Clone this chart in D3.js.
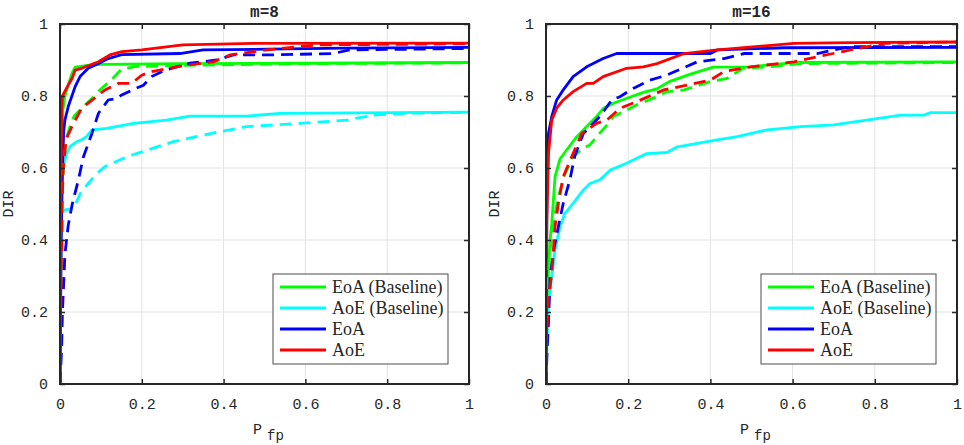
<!DOCTYPE html>
<html>
<head>
<meta charset="utf-8">
<script src="https://cdn.jsdelivr.net/npm/d3@7"></script>
<style>
  body { margin: 0; background: #fff; }
  svg text { fill: #262626; }
</style>
</head>
<body>
<div id="chart"></div>
<script>
// legend labels and line colours
const seriesNames = ["EoA (Baseline)", "AoE (Baseline)", "EoA", "AoE"];
const seriesColors = ["#00ff00", "#00ffff", "#0000ff", "#ff0000"];
const ticks = [0, 0.2, 0.4, 0.6, 0.8, 1];
const tickLabels = ["0", "0.2", "0.4", "0.6", "0.8", "1"];
const panelTitles = ["m=8", "m=16"];

// m=8, solid curves  [Pfp, DIR]
const m8EoABase = [[0,0],[0.002,0.4],[0.004,0.65],[0.007,0.76],[0.012,0.8],[0.02,0.83],[0.03,0.865],[0.037,0.88],[0.06,0.884],[0.1,0.888],[0.3,0.89],[0.6,0.891],[1,0.893]];
const m8AoEBase = [[0,0],[0.002,0.4],[0.005,0.56],[0.008,0.604],[0.016,0.64],[0.025,0.66],[0.041,0.673],[0.055,0.68],[0.065,0.687],[0.078,0.706],[0.114,0.71],[0.18,0.724],[0.26,0.733],[0.318,0.744],[0.456,0.744],[0.538,0.752],[1,0.755]];
const m8EoA = [[0,0],[0.003,0.4],[0.006,0.6],[0.009,0.7],[0.012,0.733],[0.02,0.77],[0.037,0.826],[0.049,0.854],[0.069,0.877],[0.094,0.89],[0.118,0.904],[0.151,0.915],[0.293,0.918],[0.35,0.928],[0.506,0.93],[0.7,0.933],[1,0.935]];
const m8AoE = [[0,0],[0.002,0.5],[0.004,0.75],[0.006,0.8],[0.02,0.83],[0.03,0.85],[0.037,0.872],[0.053,0.877],[0.094,0.895],[0.122,0.914],[0.151,0.923],[0.2,0.928],[0.3,0.942],[0.47,0.946],[1,0.947]];
// m=8, dashed curves
const m8EoABaseD = [[0,0],[0.003,0.3],[0.005,0.5],[0.008,0.6],[0.015,0.68],[0.024,0.715],[0.035,0.745],[0.053,0.766],[0.075,0.79],[0.098,0.817],[0.13,0.85],[0.151,0.875],[0.187,0.882],[0.3,0.885],[0.6,0.89],[1,0.892]];
const m8AoEBaseD = [[0,0],[0.003,0.2],[0.006,0.4],[0.008,0.483],[0.033,0.488],[0.05,0.53],[0.069,0.557],[0.09,0.585],[0.11,0.604],[0.163,0.631],[0.2,0.645],[0.277,0.673],[0.391,0.701],[0.456,0.715],[0.587,0.724],[0.701,0.733],[0.766,0.747],[0.85,0.752],[1,0.755]];
const m8EoAD = [[0,0],[0.004,0.1],[0.006,0.2],[0.009,0.28],[0.012,0.36],[0.02,0.44],[0.03,0.5],[0.045,0.567],[0.057,0.63],[0.078,0.696],[0.094,0.752],[0.118,0.789],[0.139,0.793],[0.151,0.803],[0.183,0.82],[0.204,0.83],[0.224,0.854],[0.257,0.872],[0.318,0.891],[0.383,0.9],[0.424,0.914],[0.505,0.914],[0.668,0.918],[0.709,0.928],[1,0.932]];
const m8AoED = [[0,0],[0.003,0.3],[0.005,0.5],[0.008,0.6],[0.015,0.68],[0.029,0.715],[0.053,0.766],[0.08,0.79],[0.11,0.817],[0.143,0.835],[0.175,0.835],[0.2,0.858],[0.224,0.868],[0.31,0.886],[0.375,0.895],[0.416,0.914],[0.505,0.928],[0.628,0.942],[1,0.945]];

// m=16, solid curves
const m16EoABase = [[0,0],[0.005,0.3],[0.01,0.4],[0.014,0.446],[0.018,0.511],[0.022,0.576],[0.034,0.625],[0.05,0.65],[0.075,0.687],[0.099,0.715],[0.123,0.743],[0.139,0.765],[0.164,0.78],[0.2,0.795],[0.237,0.81],[0.27,0.82],[0.3,0.84],[0.35,0.86],[0.407,0.88],[0.498,0.881],[0.603,0.893],[1,0.895]];
const m16AoEBase = [[0,0],[0.003,0.15],[0.006,0.215],[0.014,0.298],[0.022,0.372],[0.034,0.437],[0.046,0.474],[0.066,0.502],[0.091,0.539],[0.107,0.557],[0.131,0.567],[0.156,0.594],[0.196,0.613],[0.245,0.64],[0.294,0.643],[0.32,0.659],[0.416,0.678],[0.465,0.687],[0.538,0.706],[0.62,0.715],[0.7,0.72],[0.78,0.733],[0.863,0.747],[0.92,0.747],[0.936,0.754],[1,0.754]];
const m16EoA = [[0,0],[0.002,0.5],[0.006,0.696],[0.014,0.743],[0.026,0.789],[0.042,0.817],[0.066,0.854],[0.099,0.881],[0.139,0.904],[0.172,0.918],[0.229,0.918],[0.4,0.918],[0.417,0.928],[0.58,0.934],[1,0.935]];
const m16AoE = [[0,0],[0.002,0.45],[0.006,0.64],[0.014,0.733],[0.026,0.766],[0.042,0.789],[0.066,0.812],[0.099,0.835],[0.115,0.835],[0.139,0.854],[0.196,0.877],[0.237,0.881],[0.27,0.89],[0.336,0.918],[0.417,0.928],[0.603,0.946],[0.74,0.948],[1,0.95]];
// m=16, dashed curves (AoE baseline dashed lies under the solid one)
const m16EoABaseD = [[0,0],[0.003,0.2],[0.008,0.35],[0.018,0.45],[0.03,0.52],[0.045,0.58],[0.065,0.63],[0.09,0.655],[0.107,0.664],[0.127,0.692],[0.152,0.724],[0.164,0.743],[0.196,0.761],[0.22,0.775],[0.261,0.794],[0.294,0.812],[0.336,0.817],[0.4,0.84],[0.44,0.849],[0.48,0.877],[0.538,0.881],[0.62,0.89],[1,0.893]];
const m16EoAD = [[0,0],[0.003,0.1],[0.006,0.168],[0.01,0.298],[0.02,0.38],[0.03,0.437],[0.042,0.502],[0.058,0.567],[0.07,0.633],[0.091,0.696],[0.131,0.743],[0.16,0.789],[0.18,0.798],[0.212,0.821],[0.253,0.844],[0.294,0.858],[0.368,0.895],[0.433,0.904],[0.482,0.918],[0.66,0.918],[0.7,0.928],[0.741,0.937],[1,0.937]];
const m16AoED = [[0,0],[0.0016,0.13],[0.006,0.24],[0.014,0.307],[0.018,0.372],[0.022,0.437],[0.03,0.502],[0.042,0.576],[0.062,0.63],[0.087,0.696],[0.123,0.724],[0.148,0.733],[0.18,0.766],[0.22,0.784],[0.287,0.817],[0.4,0.844],[0.433,0.868],[0.498,0.881],[0.603,0.895],[0.66,0.909],[0.741,0.928],[0.822,0.946],[1,0.95]];

const panels = [
  { title: panelTitles[0], left: 60, right: 469,
    solid: [m8EoABase, m8AoEBase, m8EoA, m8AoE],
    dashed: [m8EoABaseD, m8AoEBaseD, m8EoAD, m8AoED] },
  { title: panelTitles[1], left: 546, right: 957,
    solid: [m16EoABase, m16AoEBase, m16EoA, m16AoE],
    dashed: [m16EoABaseD, null, m16EoAD, m16AoED] }
];

const width = 964, height = 445;
const plotTop = 24, plotBottom = 384;
const mono = "'Liberation Mono', 'DejaVu Sans Mono', monospace";

const svg = d3.select('#chart').append('svg')
    .attr('width', width)
    .attr('height', height);

panels.forEach((p, pi) => {
  const x = d3.scaleLinear().domain([0, 1]).range([p.left, p.right]);
  const y = d3.scaleLinear().domain([0, 1]).range([plotBottom, plotTop]);
  const g = svg.append('g');

  // grid
  g.selectAll('.gx').data(ticks.slice(1, -1)).enter().append('line')
      .attr('x1', d => x(d)).attr('x2', d => x(d))
      .attr('y1', plotTop).attr('y2', plotBottom)
      .attr('stroke', '#e3e3e3').attr('stroke-width', 1);
  g.selectAll('.gy').data(ticks.slice(1, -1)).enter().append('line')
      .attr('x1', p.left).attr('x2', p.right)
      .attr('y1', d => y(d)).attr('y2', d => y(d))
      .attr('stroke', '#e3e3e3').attr('stroke-width', 1);

  // curves
  g.append('clipPath').attr('id', 'clip' + pi)
    .append('rect').attr('x', p.left).attr('y', plotTop - 2)
    .attr('width', p.right - p.left).attr('height', plotBottom - plotTop + 2);

  const line = d3.line().x(d => x(d[0])).y(d => y(d[1]));
  const curves = g.append('g').attr('clip-path', 'url(#clip' + pi + ')');

  p.solid.forEach((s, i) => {
    curves.append('path').datum(s)
        .attr('d', line).attr('fill', 'none')
        .attr('stroke', seriesColors[i]).attr('stroke-width', 2.8)
        .attr('stroke-linejoin', 'round');
  });
  p.dashed.forEach((s, i) => {
    if (!s) return;
    curves.append('path').datum(s)
        .attr('d', line).attr('fill', 'none')
        .attr('stroke', seriesColors[i]).attr('stroke-width', 2.8)
        .attr('stroke-dasharray', '12,7');
  });

  // axes (ticks pointing inward, on all sides)
  const xb = g.append('g').attr('transform', `translate(0,${plotBottom})`)
      .call(d3.axisBottom(x).tickValues(ticks).tickSize(-5).tickPadding(14)
        .tickFormat((d, i) => tickLabels[i]));
  const yl = g.append('g').attr('transform', `translate(${p.left},0)`)
      .call(d3.axisLeft(y).tickValues(ticks).tickSize(-5).tickPadding(12)
        .tickFormat((d, i) => tickLabels[i]));
  const xt = g.append('g').attr('transform', `translate(0,${plotTop})`)
      .call(d3.axisTop(x).tickValues(ticks).tickSize(-5).tickFormat(''));
  const yr = g.append('g').attr('transform', `translate(${p.right},0)`)
      .call(d3.axisRight(y).tickValues(ticks).tickSize(-5).tickFormat(''));

  [xb, yl, xt, yr].forEach(a => {
    a.select('.domain').remove();
    a.selectAll('.tick line').attr('stroke', '#262626').attr('stroke-width', 1.5);
    a.selectAll('text').style('font-family', mono).style('font-size', '15px')
      .attr('fill', '#333');
  });

  g.append('rect')
      .attr('x', p.left).attr('y', plotTop)
      .attr('width', p.right - p.left).attr('height', plotBottom - plotTop)
      .attr('fill', 'none').attr('stroke', '#262626').attr('stroke-width', 2);

  // title
  const cx = (p.left + p.right) / 2;
  g.append('text').attr('x', cx).attr('y', 17)
      .attr('text-anchor', 'middle')
      .style('font-family', mono).style('font-size', '16px').style('font-weight', 'bold')
      .attr('fill', '#000').text(p.title);

  // axis labels
  const xl = g.append('text').attr('x', cx + 4).attr('y', 434)
      .attr('text-anchor', 'middle')
      .style('font-family', mono).style('font-size', '15px');
  xl.append('tspan').text('P');
  xl.append('tspan').attr('dx', 5).attr('dy', 6).style('font-size', '14px').text('fp');

  g.append('text')
      .attr('transform', `translate(${p.left - 47},${(plotTop + plotBottom) / 2}) rotate(-90)`)
      .attr('text-anchor', 'middle')
      .style('font-family', mono).style('font-size', '15px')
      .text('DIR');

  // legend
  const lx = p.right - 196, ly = 274;
  const leg = g.append('g').attr('transform', `translate(${lx},${ly})`);
  leg.append('rect').attr('width', 175).attr('height', 90)
      .attr('fill', '#fff').attr('stroke', '#4d4d4d').attr('stroke-width', 1);
  seriesNames.forEach((n, i) => {
    const ry = 13 + i * 21;
    leg.append('line').attr('x1', 7).attr('x2', 53)
        .attr('y1', ry).attr('y2', ry)
        .attr('stroke', seriesColors[i]).attr('stroke-width', 3);
    leg.append('text').attr('x', 59).attr('y', ry + 6)
        .style('font-family', "'Liberation Serif', 'DejaVu Serif', serif")
        .style('font-size', '18px').attr('fill', '#000')
        .text(n);
  });
});
</script>
</body>
</html>
